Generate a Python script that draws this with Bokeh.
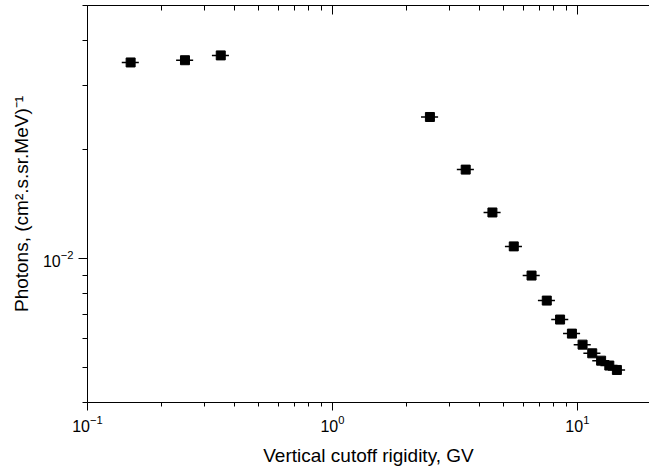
from bokeh.plotting import figure
from bokeh.models import ColumnDataSource, FixedTicker, LogAxis, Range1d, CustomJSTickFormatter
from bokeh.embed import file_html
from bokeh.resources import INLINE

# data
rigidity = [0.15, 0.25, 0.35, 2.5, 3.5, 4.5, 5.5, 6.5, 7.5, 8.5, 9.5, 10.5, 11.5, 12.5, 13.5, 14.5]
photons = [0.0348, 0.0353, 0.0364, 0.0246, 0.0176, 0.0134, 0.0108, 0.00897, 0.00765,
           0.00678, 0.0062, 0.00578, 0.00547, 0.00522, 0.00506, 0.00492]
rigidity_err = [0.012, 0.02, 0.028, 0.2, 0.28, 0.36, 0.44, 0.52, 0.6, 0.68, 0.76, 0.84,
                0.92, 1.0, 1.08, 1.16]

x_major = [0.1, 1, 10]
x_minor = [0.2, 0.3, 0.4, 0.5, 0.6, 0.7, 0.8, 0.9, 2, 3, 4, 5, 6, 7, 8, 9, 20]
y_major = [0.01]
y_minor = [0.004, 0.005, 0.006, 0.007, 0.008, 0.009, 0.02, 0.03, 0.04, 0.05]

x_title = "Vertical cutoff rigidity, GV"
y_title = "Photons, (cm\u00b2.s.sr.MeV)\u207b\u00b9"

FONT = "Liberation Sans"

src = ColumnDataSource(dict(
    x=rigidity, y=photons,
    x0=[a - e for a, e in zip(rigidity, rigidity_err)],
    x1=[a + e for a, e in zip(rigidity, rigidity_err)],
))

p = figure(width=649, height=469, x_axis_type="log", y_axis_type="log",
           x_range=Range1d(0.1, 19.7), y_range=Range1d(0.004, 0.05),
           output_backend="svg", toolbar_location=None,
           min_border_left=87, min_border_right=0, min_border_top=5, min_border_bottom=67)
p.grid.visible = False
p.outline_line_color = None
p.background_fill_color = "white"

xt = FixedTicker(ticks=x_major, minor_ticks=x_minor)
yt = FixedTicker(ticks=y_major, minor_ticks=y_minor)

xa = p.xaxis[0]
xa.ticker = xt
xa.axis_label = x_title
ya = p.yaxis[0]
ya.ticker = yt
ya.axis_label = y_title

for ax in (xa, ya):
    ax.axis_line_color = "black"
    ax.axis_line_width = 1
    ax.major_tick_line_color = "black"
    ax.minor_tick_line_color = "black"
    ax.major_tick_in = 0
    ax.minor_tick_in = 0
    ax.major_label_text_font = FONT
    ax.major_label_text_font_size = "16px"
    ax.major_label_text_color = "black"
    ax.axis_label_text_font = FONT
    ax.axis_label_text_font_size = "19px"
    ax.axis_label_text_font_style = "normal"
    ax.axis_label_text_color = "black"

xa.major_tick_out = 8
xa.minor_tick_out = 4
xa.major_label_standoff = 4
xa.axis_label_standoff = 10
ya.major_tick_out = 9
ya.minor_tick_out = 5
ya.major_label_standoff = 5
ya.axis_label_standoff = 8

blank = CustomJSTickFormatter(code="return ''")

top = LogAxis(ticker=FixedTicker(ticks=x_major, minor_ticks=x_minor),
              major_tick_in=9, major_tick_out=0, minor_tick_in=5, minor_tick_out=0,
              formatter=blank, major_label_standoff=0,
              axis_line_color="black")
p.add_layout(top, "above")

p.segment(x0="x0", y0="y", x1="x1", y1="y", source=src, line_color="black", line_width=1.5)
p.scatter(x="x", y="y", source=src, marker="square", size=9, fill_color="black", line_color="black")

open("out.html", "w").write(file_html(p, INLINE))
